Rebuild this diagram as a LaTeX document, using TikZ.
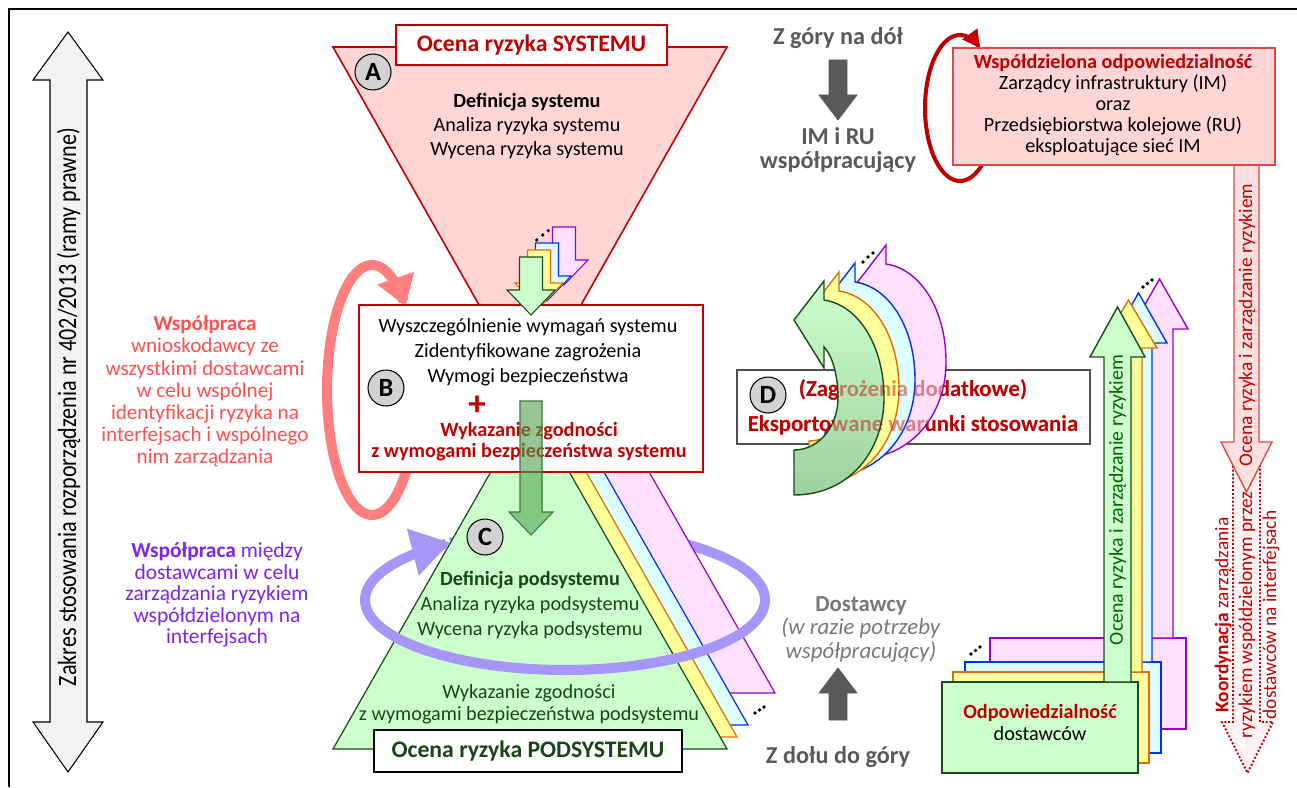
\documentclass[tikz,border=0pt]{standalone}
\usepackage{fontspec}
\usepackage{graphicx}
\setmainfont{Carlito}
\usetikzlibrary{arrows.meta}
\definecolor{dred}{RGB}{192,0,0}
\definecolor{pinkfill}{RGB}{255,213,213}
\definecolor{pinkfillb}{RGB}{255,224,224}
\definecolor{dotfill}{RGB}{255,242,242}
\definecolor{boxred}{RGB}{224,72,72}
\definecolor{salmonc}{RGB}{255,127,127}
\definecolor{salmontext}{RGB}{255,80,80}
\definecolor{ringpurple}{RGB}{165,150,248}
\definecolor{purpletext}{RGB}{125,35,240}
\definecolor{graytext}{RGB}{89,89,89}
\definecolor{lgray}{RGB}{120,120,120}
\definecolor{gfill}{RGB}{204,255,204}
\definecolor{gfilldark}{RGB}{160,208,160}
\definecolor{gdraw}{RGB}{25,75,25}
\definecolor{gtext}{RGB}{25,70,25}
\definecolor{yfill}{RGB}{255,255,153}
\definecolor{ydraw}{RGB}{227,108,9}
\definecolor{cfill}{RGB}{221,255,255}
\definecolor{cdraw}{RGB}{0,51,230}
\definecolor{pfill}{RGB}{255,225,255}
\definecolor{pdraw}{RGB}{153,0,204}
\definecolor{circfill}{RGB}{210,210,210}
\definecolor{arrgray}{RGB}{89,89,89}
\definecolor{lightarr}{RGB}{242,242,242}
\definecolor{midgreen}{RGB}{80,160,80}
\definecolor{dgtext}{RGB}{0,100,0}
\definecolor{dgray}{RGB}{80,80,80}
\newcommand\myfs[2]{\fontsize{#1}{#2}\selectfont\lineskiplimit=-20pt\relax}
\tikzset{
  txt/.style={align=center, inner sep=0pt},
  lblc/.style={circle, draw=black, line width=0.6pt, fill=circfill, minimum size=0.72cm, inner sep=0pt, font=\myfs{15}{18}\bfseries},
  stackbox/.style={minimum width=3.92cm, minimum height=1.82cm, line width=0.9pt},
  smallarr/.style={insert path={(519.5,290) -- (519.5,257) -- (542.5,257) -- (542.5,290) -- (555,290) -- (531,315) -- (507,290) -- cycle}},
  tri/.style={insert path={(530,403) -- (727,749) -- (333,749) -- cycle}},
  darr/.style={insert path={(794,495) .. controls (850,495) and (884,450) .. (884,398) .. controls (884,345) and (858,305) .. (824,300) -- (824,281) -- (794,320) -- (824,368) -- (824,347) .. controls (832,355) and (838,375) .. (838,398) .. controls (838,425) and (820,450) .. (794,450) -- cycle}},
  loopline/.style={line width=5.7pt, line cap=butt}
}
\begin{document}
\begin{tikzpicture}[x=0.02cm, y=-0.02cm]
\useasboundingbox (0,0) rectangle (1297,787);
% frame
\draw[line width=1.7pt] (9,787) -- (9,9) -- (1297,9);
% left double arrow
\draw[fill=lightarr, line width=0.6pt] (68,32) -- (103,80) -- (87,80) -- (87,722) -- (103,722) -- (68,772) -- (33,722) -- (50,722) -- (50,80) -- (33,80) -- cycle;
\node[txt, rotate=90] (zakres) at (68.5,407) {\scalebox{0.84}[1]{\myfs{15}{18}Zakres stosowania rozporządzenia nr 402/2013 (ramy prawne)}};
% triangle A
\draw[fill=pinkfill, draw=dred, line width=0.9pt] (333,47) -- (727,47) -- (530,395) -- cycle;
\node[draw=dred, fill=white, line width=0.9pt, minimum width=5.42cm, minimum height=0.8cm, font=\myfs{13.5}{16}\bfseries, text=dred] (titleA) at (531.5,45) {Ocena ryzyka SYSTEMU};
\node[lblc] (cA) at (373,72) {A};
\node[txt, font=\myfs{11.5}{13.6}] (txtA) at (527,126) {\textbf{Definicja systemu}\\Analiza ryzyka systemu\\Wycena ryzyka systemu};
% small stacked arrows
\begin{scope}[shift={(33,-30)}]\draw[smallarr, fill=pfill, draw=pdraw, line width=0.6pt];\end{scope}
\begin{scope}[shift={(16,-14)}]\draw[smallarr, fill=cfill, draw=cdraw, line width=0.6pt];\end{scope}
\begin{scope}[shift={(8,-7)}]\draw[smallarr, fill=yfill, draw=ydraw, line width=0.6pt];\end{scope}
% salmon loop
\draw[salmonc, loopline, -{Triangle[length=17pt,width=21pt]}] plot[domain=20:318, samples=90, variable=\t] ({372+45*cos(\t)},{390+125*sin(\t)});
% ring back
\draw[ringpurple, loopline] plot[domain=235:360, samples=90, variable=\t] ({565+200*cos(\t)},{600+70*sin(\t)});
% strips and triangle C
\begin{scope}[shift={(48,-56)}]\draw[tri, fill=pfill, draw=pdraw, line width=0.7pt];\end{scope}
\begin{scope}[shift={(21,-24)}]\draw[tri, fill=cfill, draw=cdraw, line width=0.7pt];\end{scope}
\begin{scope}[shift={(10,-12)}]\draw[tri, fill=yfill, draw=ydraw, line width=0.7pt];\end{scope}
\draw[tri, fill=gfill, draw=gdraw, line width=0.7pt];
% ring front
\draw[ringpurple, loopline] plot[domain=0:180, samples=90, variable=\t] ({565+200*cos(\t)},{600+70*sin(\t)});
\draw[ringpurple, loopline, -{Triangle[length=22pt,width=26pt]}] plot[domain=178:235, samples=40, variable=\t] ({565+200*cos(\t)},{600+70*sin(\t)});
% box B
\node[draw=dred, fill=white, line width=1.4pt, minimum width=6.88cm, minimum height=3.34cm] (boxB) at (531,388.5) {};
\draw[smallarr, fill=gfill, draw=gdraw, line width=0.6pt];
\node[txt, font=\myfs{11.5}{14.3}] (txtB) at (528,352) {Wyszczególnienie wymagań systemu\\Zidentyfikowane zagrożenia\\Wymogi bezpieczeństwa};
\node[txt, font=\myfs{20}{20}\bfseries, text=dred] (plus) at (477,406) {+};
\node[txt, font=\myfs{11.5}{12}\bfseries, text=dred] (txtB2) at (529,441.5) {Wykazanie zgodności\\z wymogami bezpieczeństwa systemu};
\node[lblc] (cB) at (386,388) {B};
% C texts
\node[lblc] (cC) at (485,537) {C};
\node[txt, font=\myfs{11.5}{14.2}, text=gtext] (txtC) at (530,605) {\textbf{Definicja podsystemu}\\Analiza ryzyka podsystemu\\Wycena ryzyka podsystemu};
\node[txt, font=\myfs{11.5}{12.5}, text=gtext] (txtC2) at (529,704) {Wykazanie zgodności\\z wymogami bezpieczeństwa podsystemu};
\node[draw=black, fill=white, line width=0.8pt, minimum width=6.16cm, minimum height=0.84cm, font=\myfs{13.5}{16}\bfseries, text=gtext] (titleC) at (528,751) {Ocena ryzyka PODSYSTEMU};
% big green arrow
\draw[fill=midgreen, fill opacity=0.6, draw=midgreen!75!black, line width=0.6pt] (520,401) -- (542,401) -- (542,512) -- (553,512) -- (531,535) -- (509,512) -- (520,512) -- cycle;
% gray texts and arrows
\node[txt, font=\myfs{13.8}{16}\bfseries, text=graytext] (zgory) at (838,38) {Z góry na dół};
\draw[fill=arrgray, draw=arrgray] (829,60) -- (847,60) -- (847,95) -- (857,95) -- (838,120) -- (819,95) -- (829,95) -- cycle;
\node[txt, font=\myfs{13.8}{13.6}\bfseries, text=graytext] (imru) at (838,150) {IM i RU\\współpracujący};
\node[txt, font=\myfs{13}{13.3}, text=lgray] (dost) at (861,629.5) {\textbf{Dostawcy}\\\textit{(w razie potrzeby}\\\textit{współpracujący)}};
\draw[fill=arrgray, draw=arrgray] (829,720) -- (847,720) -- (847,693) -- (857,693) -- (838,668) -- (819,693) -- (829,693) -- cycle;
\node[txt, font=\myfs{13.8}{16}\bfseries, text=graytext] (zdolu) at (838,757) {Z dołu do góry};
% top right
\draw[dred, line width=2.3pt, -{Triangle[length=10pt,width=10pt]}] plot[domain=50:305, samples=90, variable=\t] ({960+35*cos(\t)},{108+73*sin(\t)});
\fill[dotfill] (1233,462) -- (1233,722) -- (1222,722) -- (1247.5,773) -- (1273,722) -- (1260,722) -- (1260,462) -- cycle;
\draw[dred, line width=1.1pt, dash pattern=on 1.1pt off 1.1pt] (1233,462) -- (1233,722) -- (1222,722) -- (1247.5,773) -- (1273,722) -- (1260,722) -- (1260,462);
\draw[fill=pinkfillb, draw=boxred, line width=0.8pt] (1234,165) -- (1234,442) -- (1221,442) -- (1246.5,492) -- (1272,442) -- (1259,442) -- (1259,165);
\node[draw=boxred, fill=pinkfill, line width=0.9pt, minimum width=6.44cm, minimum height=2.34cm] (boxIM) at (1114,106.5) {};
\node[txt, font=\myfs{11.5}{11.9}] (txtIM) at (1113,105) {\textcolor{dred}{\textbf{Współdzielona odpowiedzialność}}\\Zarządcy infrastruktury (IM)\\oraz\\Przedsiębiorstwa kolejowe (RU)\\eksploatujące sieć IM};
\node[txt, rotate=90, font=\myfs{11}{13}, text=dred] (txtRed) at (1247,325) {Ocena ryzyka i zarządzanie ryzykiem};
\node[txt, rotate=90, font=\myfs{11}{13.6}, text=dred] (txtKoord) at (1247,615) {\textbf{Koordynacja} zarządzania\\ryzykiem współdzielonym przez\\dostawców na interfejsach};
% right stack
\node[stackbox, fill=pfill, draw=pdraw] (bP) at (1088,683.5) {};
\draw[fill=pfill, draw=pdraw, line width=0.8pt] (1146,638) -- (1146,329) -- (1131,329) -- (1159.5,279) -- (1188,329) -- (1173,329) -- (1173,638) -- cycle;
\node[stackbox, fill=cfill, draw=cdraw] (bCy) at (1063,707.5) {};
\draw[fill=cfill, draw=cdraw, line width=0.8pt] (1125,662) -- (1125,343) -- (1110,343) -- (1138.5,293) -- (1167,343) -- (1152,343) -- (1152,662) -- cycle;
\node[stackbox, fill=yfill, draw=ydraw] (bY) at (1051,717.5) {};
\draw[fill=yfill, draw=ydraw, line width=0.8pt] (1115,672) -- (1115,348) -- (1100,348) -- (1128.5,300) -- (1157,348) -- (1142,348) -- (1142,672) -- cycle;
\node[stackbox, fill=gfill, draw=gdraw] (bG) at (1040,727.5) {};
\draw[fill=gfill, draw=gdraw, line width=0.8pt] (1104,682) -- (1104,357) -- (1090,357) -- (1117.5,307) -- (1145,357) -- (1131,357) -- (1131,682) -- cycle;
\node[txt, font=\myfs{11.5}{12}] (txtOdp) at (1040,722.5) {\textcolor{dred}{\textbf{Odpowiedzialność}}\\dostawców};
\node[txt, rotate=90, font=\myfs{11.3}{13}, text=dgtext] (txtGr) at (1117.5,500) {Ocena ryzyka i zarządzanie ryzykiem};
% D group
\node[draw=dgray, fill=white, line width=0.8pt, minimum width=7.06cm, minimum height=1.48cm] (boxD) at (913.5,407) {};
\node[lblc] (cD) at (768,395) {D};
\node[txt, font=\myfs{13}{19.8}\bfseries, text=dred] (txtD) at (913,407.5) {(Zagrożenia dodatkowe)\\Eksportowane warunki stosowania};
\begin{scope}[shift={(62,-36)}]\draw[darr, fill=pfill, draw=pdraw, line width=0.8pt];\end{scope}
\begin{scope}[shift={(31,-18)}]\draw[darr, fill=cfill, draw=cdraw, line width=0.8pt];\end{scope}
\begin{scope}[shift={(15,-9)}]\draw[darr, fill=yfill, draw=ydraw, line width=0.8pt];\end{scope}
\draw[darr, top color=gfill, bottom color=gfilldark, draw=gdraw, line width=0.8pt];
\node[txt, font=\myfs{13}{19.8}\bfseries, text=dred, text opacity=0.45] (txtDover) at (913,407.5) {(Zagrożenia dodatkowe)\\Eksportowane warunki stosowania};
% left texts
\node[txt, font=\myfs{12}{12.6}, text=salmontext] (txtSalmon) at (205,391.5) {\textbf{Współpraca}\\wnioskodawcy ze\\wszystkimi dostawcami\\w celu wspólnej\\identyfikacji ryzyka na\\interfejsach i wspólnego\\nim zarządzania};
\node[txt, font=\myfs{12.2}{12.2}, text=purpletext] (txtPurple) at (217,595) {\textbf{Współpraca} między\\dostawcami w celu\\zarządzania ryzykiem\\współdzielonym na\\interfejsach};
% dots
\foreach \p in {(536.7,240),(542.7,235),(548.3,230.7),(863,262),(868,257),(873,253),(755,713),(759.5,710),(764,707),(971,654),(975.5,650.5),(980,647),(1143,287),(1147.5,283.5),(1152,280)}
  \fill \p circle[radius=1.8];
\end{tikzpicture}
\end{document}
